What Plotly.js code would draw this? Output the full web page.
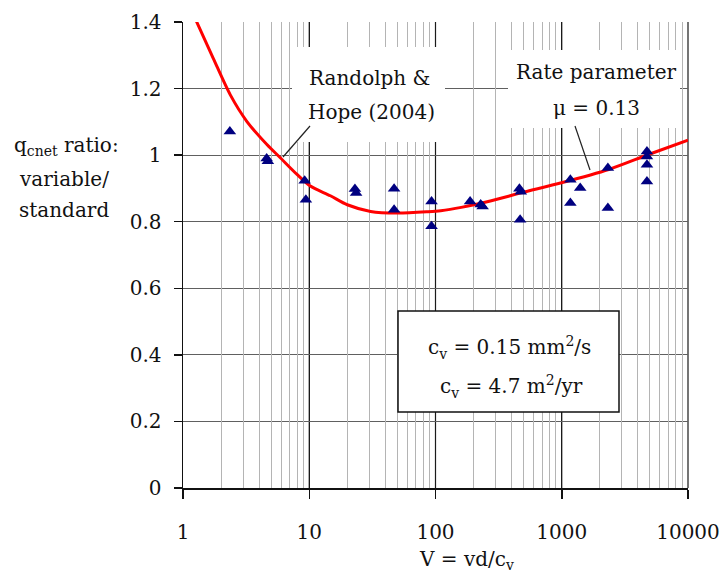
<!DOCTYPE html>
<html>
<head>
<meta charset="utf-8">
<script src="https://cdn.plot.ly/plotly-3.0.1.min.js"></script>
<style>html,body{margin:0;padding:0;background:#fff;}#chart{width:721px;height:576px;}</style>
</head>
<body>
<div id="chart"></div>
<script>
// Measured data (V = vd/cv, qcnet ratio variable/standard)
const measV = [2.35, 4.6, 4.7, 9.2, 9.4, 23, 23.5, 47, 47, 93, 93, 188, 228, 236, 462, 474, 468, 1170, 1170, 1400, 2320, 2320, 4730, 4730, 4730, 4730];
const measQ = [1.071, 0.99, 0.982, 0.923, 0.866, 0.898, 0.886, 0.899, 0.836, 0.861, 0.786, 0.861, 0.852, 0.846, 0.899, 0.89, 0.806, 0.926, 0.856, 0.901, 0.961, 0.841, 1.011, 0.996, 0.971, 0.921];

// Randolph & Hope (2004) backbone curve
const curveV = [1.25, 1.74, 2.37, 3.21, 4.62, 5.9, 8.0, 10.2, 14.7, 20, 30.6, 50, 86.7, 110, 160, 277, 478, 994, 2350, 4866, 10000];
const curveQ = [1.41, 1.29, 1.181, 1.101, 1.032, 0.992, 0.942, 0.907, 0.878, 0.851, 0.831, 0.826, 0.830, 0.833, 0.843, 0.863, 0.887, 0.917, 0.957, 1.002, 1.045];

const xTickVals = [1, 10, 100, 1000, 10000];
const xTickText = ['1', '10', '100', '1000', '10000'];

// minor log grid positions 2..9 per decade
const minorVals = [];
for (let d = 0; d < 4; d++) for (let k = 2; k <= 9; k++) minorVals.push(k * Math.pow(10, d));

const FONT = 'DejaVu Serif';
const FS = 20;
const L = 183, R = 688, T = 22, B = 488;
const px = x => (x - L) / (R - L);
const py = y => (B - y) / (B - T);
const XR = [0, 4];

const traces = [
  {x: [1, 10000], y: [null, null], xaxis: 'x2', yaxis: 'y', type: 'scatter', mode: 'lines', hoverinfo: 'skip', showlegend: false},
  {
    x: curveV, y: curveQ, type: 'scatter', mode: 'lines',
    line: {color: '#ff0000', width: 3, shape: 'spline', smoothing: 0.8},
    hoverinfo: 'skip', showlegend: false
  },
  {
    x: measV, y: measQ, type: 'scatter', mode: 'markers',
    marker: {symbol: 'triangle-up', size: 11, color: '#000080'},
    showlegend: false
  }
];

function ann(x, y, text) {
  return {xref: 'paper', yref: 'paper', x: px(x), y: py(y), text: text, showarrow: false,
    xanchor: 'center', yanchor: 'middle', font: {family: FONT, size: FS, color: '#111'}};
}

// decade grid lines (dark), from the axis tick values
const decadeLines = xTickVals.slice(1).map(v => ({
  type: 'line', xref: 'paper', yref: 'paper',
  x0: (Math.log10(v) - XR[0]) / (XR[1] - XR[0]), x1: (Math.log10(v) - XR[0]) / (XR[1] - XR[0]),
  y0: 0, y1: 1, line: {color: '#1a1a1a', width: 1.2}, layer: 'between'
}));

const layout = {
  width: 721, height: 576,
  margin: {l: L, r: 721 - R, t: T, b: 576 - B},
  paper_bgcolor: '#fff', plot_bgcolor: '#fff',
  font: {family: FONT, size: FS, color: '#111'},
  xaxis: {
    type: 'log', range: XR,
    tickmode: 'array', tickvals: xTickVals, ticktext: xTickText,
    showgrid: true, gridcolor: '#1a1a1a', gridwidth: 1,
    showline: true, linecolor: '#111', linewidth: 1.5,
    ticks: 'outside', ticklen: 9, tickcolor: '#111', tickwidth: 1.5,
    ticklabelstandoff: 16,
    zeroline: false, tickfont: {family: FONT, size: FS, color: '#111'}
  },
  xaxis2: {
    type: 'log', range: XR, overlaying: 'x', anchor: 'y', side: 'bottom',
    tickmode: 'array', tickvals: minorVals, showticklabels: false,
    showgrid: true, gridcolor: '#b4b4b4', gridwidth: 1,
    ticks: '', zeroline: false, showline: false
  },
  yaxis: {
    range: [0, 1.4], dtick: 0.2, tick0: 0,
    showgrid: true, gridcolor: '#606060', gridwidth: 1,
    showline: true, linecolor: '#111', linewidth: 1.5,
    ticks: 'outside', ticklen: 8, tickcolor: '#111', tickwidth: 1.5,
    ticklabelstandoff: 8,
    zeroline: false, tickfont: {family: FONT, size: FS, color: '#111'}
  },
  shapes: decadeLines.concat([
    {type: 'rect', xref: 'paper', yref: 'paper', x0: px(292), x1: px(445), y0: py(142), y1: py(47),
      fillcolor: '#fff', line: {width: 0}, layer: 'above'},
    {type: 'rect', xref: 'paper', yref: 'paper', x0: px(508), x1: px(680), y0: py(128), y1: py(50),
      fillcolor: '#fff', line: {width: 0}, layer: 'above'},
    {type: 'rect', xref: 'paper', yref: 'paper', x0: px(398), x1: px(619), y0: py(412), y1: py(311),
      fillcolor: '#fff', line: {width: 1.5, color: '#111'}, layer: 'above'},
    {type: 'line', xref: 'paper', yref: 'paper', x0: px(310), y0: py(126), x1: px(283), y1: py(157),
      line: {width: 1.2, color: '#222'}, layer: 'above'},
    {type: 'line', xref: 'paper', yref: 'paper', x0: px(575), y0: py(126), x1: px(590), y1: py(170),
      line: {width: 1.2, color: '#222'}, layer: 'above'}
  ]),
  annotations: [
    ann(369, 78, 'Randolph &'),
    ann(371, 112, 'Hope (2004)'),
    ann(596, 72, 'Rate parameter'),
    ann(596, 108, 'μ = 0.13'),
    ann(509, 347, 'c<sub>v</sub> = 0.15 mm<sup>2</sup>/s'),
    ann(511, 386, 'c<sub>v</sub> = 4.7 m<sup>2</sup>/yr'),
    ann(66, 146, 'q<sub>cnet</sub> ratio:'),
    ann(64, 179, 'variable/'),
    ann(64, 210, 'standard'),
    ann(466, 560, 'V = vd/c<sub>v</sub>')
  ]
};

Plotly.newPlot('chart', traces, layout, {displayModeBar: false, staticPlot: true});
</script>
</body>
</html>
